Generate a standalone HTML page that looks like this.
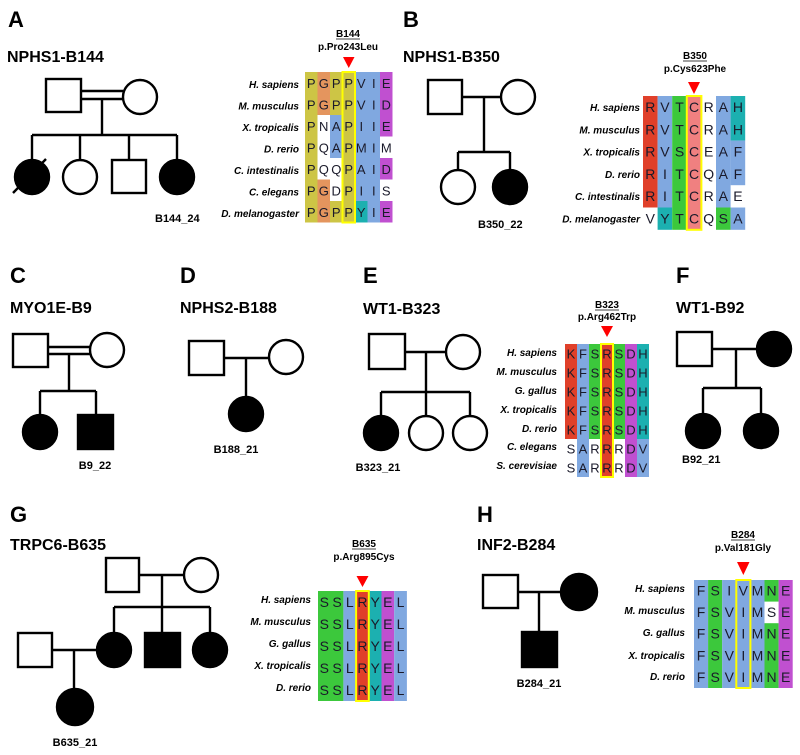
<!DOCTYPE html>
<html><head><meta charset="utf-8"><style>
html,body{margin:0;padding:0;background:#fff;}
svg{display:block;}
.pl{font:bold 22px "Liberation Sans",sans-serif;fill:#000}
.ti{font:bold 16px "Liberation Sans",sans-serif;fill:#000}
.id{font:bold 11px "Liberation Sans",sans-serif;fill:#000}
.hd{font:bold 10px "Liberation Sans",sans-serif;fill:#000}
.sp{font:italic bold 10px "Liberation Sans",sans-serif;fill:#000;text-anchor:end}
.aa{font:14px "Liberation Sans",sans-serif;fill:#1a1a2a;text-anchor:middle}
.ped{stroke:#000;stroke-width:2.4;fill:none}
.f{fill:#000}
.o{fill:#fff}
</style></head><body>
<svg width="800" height="755" viewBox="0 0 800 755" xmlns="http://www.w3.org/2000/svg">
<!-- ===== A ===== -->
<text class="pl" x="8" y="27">A</text>
<text class="ti" x="7" y="62">NPHS1-B144</text>
<g class="ped">
<rect x="46" y="79" width="35" height="33" class="o"/>
<circle cx="140" cy="97" r="17" class="o"/>
<line x1="81" y1="91" x2="123" y2="91"/><line x1="81" y1="99" x2="123" y2="99"/>
<line x1="102" y1="99" x2="102" y2="135"/>
<line x1="32" y1="135" x2="177" y2="135"/>
<line x1="32" y1="135" x2="32" y2="160"/><line x1="80" y1="135" x2="80" y2="160"/>
<line x1="129" y1="135" x2="129" y2="160"/><line x1="177" y1="135" x2="177" y2="160"/>
<circle cx="32" cy="177" r="17" class="f"/>
<circle cx="80" cy="177" r="17" class="o"/>
<rect x="112" y="160" width="34" height="33" class="o"/>
<circle cx="177" cy="177" r="17" class="f"/>
<line x1="13" y1="193" x2="46" y2="159"/>
</g>
<text class="id" x="155" y="222">B144_24</text>

<g>
<rect x="305" y="72" width="12.5" height="150.5" fill="#cdc545"/>
<rect x="317.5" y="72" width="12.5" height="43" fill="#e4955e"/>
<rect x="317.5" y="179.5" width="12.5" height="43" fill="#e4955e"/>
<rect x="330" y="72" width="12.5" height="43" fill="#cdc545"/>
<rect x="330" y="115" width="12.5" height="43" fill="#80a8e0"/>
<rect x="330" y="201" width="12.5" height="21.5" fill="#cdc545"/>
<rect x="342.5" y="72" width="12.5" height="150.5" fill="#cdc545"/>
<rect x="355" y="72" width="12.5" height="129" fill="#80a8e0"/>
<rect x="355" y="201" width="12.5" height="21.5" fill="#1cb0b0"/>
<rect x="367.5" y="72" width="12.5" height="150.5" fill="#80a8e0"/>
<rect x="380" y="72" width="12.5" height="64.5" fill="#c050d0"/>
<rect x="380" y="158" width="12.5" height="21.5" fill="#c050d0"/>
<rect x="380" y="201" width="12.5" height="21.5" fill="#c050d0"/>
<rect x="342.5" y="72" width="12.5" height="150.5" fill="none" stroke="#ffff00" stroke-width="2"/>
</g>
<text class="sp" x="299" y="88">H. sapiens</text>
<text class="sp" x="299" y="109.5">M. musculus</text>
<text class="sp" x="299" y="131">X. tropicalis</text>
<text class="sp" x="299" y="152.5">D. rerio</text>
<text class="sp" x="299" y="174">C. intestinalis</text>
<text class="sp" x="299" y="195.5">C. elegans</text>
<text class="sp" x="299" y="217">D. melanogaster</text>
<g class="aa" style="font-size:13px">
<text x="311.25 323.75 336.25 348.75 361.25 373.75 386.25" y="88">PGPPVIE</text>
<text x="311.25 323.75 336.25 348.75 361.25 373.75 386.25" y="109.5">PGPPVID</text>
<text x="311.25 323.75 336.25 348.75 361.25 373.75 386.25" y="131">PNAPIIE</text>
<text x="311.25 323.75 336.25 348.75 361.25 373.75 386.25" y="152.5">PQAPMIM</text>
<text x="311.25 323.75 336.25 348.75 361.25 373.75 386.25" y="174">PQQPAID</text>
<text x="311.25 323.75 336.25 348.75 361.25 373.75 386.25" y="195.5">PGDPIIS</text>
<text x="311.25 323.75 336.25 348.75 361.25 373.75 386.25" y="217">PGPPYIE</text>
</g>
<text class="hd" x="348" y="37" text-anchor="middle">B144</text>
<line x1="336" y1="39" x2="360" y2="39" stroke="#000" stroke-width="0.8"/>
<text class="hd" x="348" y="50" text-anchor="middle">p.Pro243Leu</text>
<polygon points="343,57 354.5,57 348.75,68" fill="#ff0000"/>

<!-- ===== B ===== -->
<text class="pl" x="403" y="27">B</text>
<text class="ti" x="403" y="62">NPHS1-B350</text>
<g class="ped">
<rect x="428" y="80" width="34" height="34" class="o"/>
<circle cx="518" cy="97" r="17" class="o"/>
<line x1="462" y1="97" x2="501" y2="97"/>
<line x1="484" y1="97" x2="484" y2="152"/>
<line x1="458" y1="152" x2="510" y2="152"/>
<line x1="458" y1="152" x2="458" y2="170"/><line x1="510" y1="152" x2="510" y2="170"/>
<circle cx="458" cy="187" r="17" class="o"/>
<circle cx="510" cy="187" r="17" class="f"/>
</g>
<text class="id" x="478" y="228">B350_22</text>

<g>
<rect x="643" y="96" width="14.6" height="111.5" fill="#e0402a"/>
<rect x="657.6" y="96" width="14.6" height="111.5" fill="#80a8e0"/>
<rect x="657.6" y="207.5" width="14.6" height="22.3" fill="#1cb0b0"/>
<rect x="672.2" y="96" width="14.6" height="133.8" fill="#3cc83c"/>
<rect x="686.8" y="96" width="14.6" height="133.8" fill="#f08080"/>
<rect x="716" y="96" width="14.6" height="111.5" fill="#80a8e0"/>
<rect x="716" y="207.5" width="14.6" height="22.3" fill="#3cc83c"/>
<rect x="730.6" y="96" width="14.6" height="44.6" fill="#1cb0b0"/>
<rect x="730.6" y="140.6" width="14.6" height="44.6" fill="#80a8e0"/>
<rect x="730.6" y="207.5" width="14.6" height="22.3" fill="#80a8e0"/>
<rect x="686.8" y="96" width="14.6" height="133.8" fill="none" stroke="#ffff00" stroke-width="2"/>
</g>
<text class="sp" x="640" y="111">H. sapiens</text>
<text class="sp" x="640" y="133.3">M. musculus</text>
<text class="sp" x="640" y="155.6">X. tropicalis</text>
<text class="sp" x="640" y="177.9">D. rerio</text>
<text class="sp" x="640" y="200.2">C. intestinalis</text>
<text class="sp" x="640" y="222.5">D. melanogaster</text>
<g class="aa">
<text x="650.3 664.9 679.5 694.1 708.7 723.3 737.9" y="112">RVTCRAH</text>
<text x="650.3 664.9 679.5 694.1 708.7 723.3 737.9" y="134.3">RVTCRAH</text>
<text x="650.3 664.9 679.5 694.1 708.7 723.3 737.9" y="156.6">RVSCEAF</text>
<text x="650.3 664.9 679.5 694.1 708.7 723.3 737.9" y="178.9">RITCQAF</text>
<text x="650.3 664.9 679.5 694.1 708.7 723.3 737.9" y="201.2">RITCRAE</text>
<text x="650.3 664.9 679.5 694.1 708.7 723.3 737.9" y="223.5">VYTCQSA</text>
</g>
<text class="hd" x="695" y="59" text-anchor="middle">B350</text>
<line x1="683" y1="61" x2="707" y2="61" stroke="#000" stroke-width="0.8"/>
<text class="hd" x="695" y="72" text-anchor="middle">p.Cys623Phe</text>
<polygon points="688,82 700,82 694,94" fill="#ff0000"/>

<!-- ===== C ===== -->
<text class="pl" x="10" y="283">C</text>
<text class="ti" x="10" y="313">MYO1E-B9</text>
<g class="ped">
<rect x="13" y="334" width="35" height="33" class="o"/>
<circle cx="107" cy="350" r="17" class="o"/>
<line x1="48" y1="347" x2="90" y2="347"/><line x1="48" y1="354" x2="90" y2="354"/>
<line x1="69" y1="354" x2="69" y2="391"/>
<line x1="40" y1="391" x2="96" y2="391"/>
<line x1="40" y1="391" x2="40" y2="415"/><line x1="96" y1="391" x2="96" y2="415"/>
<circle cx="40" cy="432" r="17" class="f"/>
<rect x="78" y="415" width="35" height="34" class="f"/>
</g>
<text class="id" x="95" y="469" text-anchor="middle">B9_22</text>

<!-- ===== D ===== -->
<text class="pl" x="180" y="283">D</text>
<text class="ti" x="180" y="313">NPHS2-B188</text>
<g class="ped">
<rect x="189" y="341" width="35" height="34" class="o"/>
<circle cx="286" cy="357" r="17" class="o"/>
<line x1="224" y1="358" x2="269" y2="358"/>
<line x1="246" y1="358" x2="246" y2="397"/>
<circle cx="246" cy="414" r="17" class="f"/>
</g>
<text class="id" x="236" y="453" text-anchor="middle">B188_21</text>

<!-- ===== E ===== -->
<text class="pl" x="363" y="283">E</text>
<text class="ti" x="363" y="314">WT1-B323</text>
<g class="ped">
<rect x="369" y="334" width="36" height="35" class="o"/>
<circle cx="463" cy="352" r="17" class="o"/>
<line x1="405" y1="352" x2="446" y2="352"/>
<line x1="426" y1="352" x2="426" y2="392"/>
<line x1="381" y1="392" x2="470" y2="392"/>
<line x1="381" y1="392" x2="381" y2="416"/><line x1="426" y1="392" x2="426" y2="416"/><line x1="470" y1="392" x2="470" y2="416"/>
<circle cx="381" cy="433" r="17" class="f"/>
<circle cx="426" cy="433" r="17" class="o"/>
<circle cx="470" cy="433" r="17" class="o"/>
</g>
<text class="id" x="378" y="471" text-anchor="middle">B323_21</text>

<g>
<rect x="565" y="344" width="12" height="95" fill="#e0402a"/>
<rect x="577" y="344" width="12" height="133" fill="#80a8e0"/>
<rect x="589" y="344" width="12" height="95" fill="#3cc83c"/>
<rect x="601" y="344" width="12" height="133" fill="#e0402a"/>
<rect x="613" y="344" width="12" height="95" fill="#3cc83c"/>
<rect x="625" y="344" width="12" height="133" fill="#c050d0"/>
<rect x="637" y="344" width="12" height="95" fill="#1cb0b0"/>
<rect x="637" y="439" width="12" height="38" fill="#80a8e0"/>
<rect x="601" y="344" width="12" height="133" fill="none" stroke="#ffff00" stroke-width="2"/>
</g>
<text class="sp" x="557" y="356">H. sapiens</text>
<text class="sp" x="557" y="375">M. musculus</text>
<text class="sp" x="557" y="394">G. gallus</text>
<text class="sp" x="557" y="413">X. tropicalis</text>
<text class="sp" x="557" y="432">D. rerio</text>
<text class="sp" x="557" y="450">C. elegans</text>
<text class="sp" x="557" y="469">S. cerevisiae</text>
<g class="aa" style="font-size:13px">
<text x="571 583 595 607 619 631 643" y="358.5">KFSRSDH</text>
<text x="571 583 595 607 619 631 643" y="377.5">KFSRSDH</text>
<text x="571 583 595 607 619 631 643" y="396.5">KFSRSDH</text>
<text x="571 583 595 607 619 631 643" y="415.5">KFSRSDH</text>
<text x="571 583 595 607 619 631 643" y="434.5">KFSRSDH</text>
<text x="571 583 595 607 619 631 643" y="453.5">SARRRDV</text>
<text x="571 583 595 607 619 631 643" y="472.5">SARRRDV</text>
</g>
<text class="hd" x="607" y="308" text-anchor="middle">B323</text>
<line x1="595" y1="310" x2="619" y2="310" stroke="#000" stroke-width="0.8"/>
<text class="hd" x="607" y="320" text-anchor="middle">p.Arg462Trp</text>
<polygon points="601,326 613,326 607,337" fill="#ff0000"/>

<!-- ===== F ===== -->
<text class="pl" x="676" y="283">F</text>
<text class="ti" x="676" y="313">WT1-B92</text>
<g class="ped">
<rect x="677" y="332" width="35" height="34" class="o"/>
<circle cx="774" cy="349" r="17" class="f"/>
<line x1="712" y1="349" x2="757" y2="349"/>
<line x1="736" y1="349" x2="736" y2="388"/>
<line x1="703" y1="388" x2="761" y2="388"/>
<line x1="703" y1="388" x2="703" y2="414"/><line x1="761" y1="388" x2="761" y2="414"/>
<circle cx="703" cy="431" r="17" class="f"/>
<circle cx="761" cy="431" r="17" class="f"/>
</g>
<text class="id" x="682" y="463">B92_21</text>

<!-- ===== G ===== -->
<text class="pl" x="10" y="522">G</text>
<text class="ti" x="10" y="550">TRPC6-B635</text>
<g class="ped">
<rect x="106" y="558" width="33" height="34" class="o"/>
<circle cx="201" cy="575" r="17" class="o"/>
<line x1="139" y1="575" x2="184" y2="575"/>
<line x1="162" y1="575" x2="162" y2="607"/>
<line x1="114" y1="607" x2="210" y2="607"/>
<line x1="114" y1="607" x2="114" y2="633"/><line x1="162" y1="607" x2="162" y2="633"/><line x1="210" y1="607" x2="210" y2="633"/>
<circle cx="114" cy="650" r="17" class="f"/>
<rect x="145" y="633" width="35" height="34" class="f"/>
<circle cx="210" cy="650" r="17" class="f"/>
<rect x="18" y="633" width="34" height="34" class="o"/>
<line x1="52" y1="650" x2="97" y2="650"/>
<line x1="74" y1="650" x2="74" y2="689"/>
<circle cx="75" cy="707" r="18" class="f"/>
</g>
<text class="id" x="75" y="746" text-anchor="middle">B635_21</text>

<g>
<rect x="318" y="591" width="25.4" height="110" fill="#3cc83c"/>
<rect x="343.4" y="591" width="12.7" height="110" fill="#80a8e0"/>
<rect x="356.1" y="591" width="12.7" height="110" fill="#e0402a"/>
<rect x="368.8" y="591" width="12.7" height="110" fill="#1cb0b0"/>
<rect x="381.5" y="591" width="12.7" height="110" fill="#c050d0"/>
<rect x="394.2" y="591" width="12.7" height="110" fill="#80a8e0"/>
<rect x="356.1" y="591" width="12.7" height="110" fill="none" stroke="#ffff00" stroke-width="2"/>
</g>
<text class="sp" x="311" y="603">H. sapiens</text>
<text class="sp" x="311" y="625">M. musculus</text>
<text class="sp" x="311" y="647">G. gallus</text>
<text class="sp" x="311" y="669">X. tropicalis</text>
<text class="sp" x="311" y="691">D. rerio</text>
<g class="aa">
<text x="324.35 337.05 349.75 362.45 375.15 387.85 400.55" y="607">SSLRYEL</text>
<text x="324.35 337.05 349.75 362.45 375.15 387.85 400.55" y="629">SSLRYEL</text>
<text x="324.35 337.05 349.75 362.45 375.15 387.85 400.55" y="651">SSLRYEL</text>
<text x="324.35 337.05 349.75 362.45 375.15 387.85 400.55" y="673">SSLRYEL</text>
<text x="324.35 337.05 349.75 362.45 375.15 387.85 400.55" y="695">SSLRYEL</text>
</g>
<text class="hd" x="364" y="547" text-anchor="middle">B635</text>
<line x1="352" y1="549" x2="376" y2="549" stroke="#000" stroke-width="0.8"/>
<text class="hd" x="364" y="560" text-anchor="middle">p.Arg895Cys</text>
<polygon points="356.5,576 368.5,576 362.5,587" fill="#ff0000"/>

<!-- ===== H ===== -->
<text class="pl" x="477" y="522">H</text>
<text class="ti" x="477" y="550">INF2-B284</text>
<g class="ped">
<rect x="483" y="575" width="35" height="33" class="o"/>
<circle cx="579" cy="592" r="18" class="f"/>
<line x1="518" y1="592" x2="561" y2="592"/>
<line x1="539" y1="592" x2="539" y2="632"/>
<rect x="522" y="632" width="35" height="35" class="f"/>
</g>
<text class="id" x="539" y="687" text-anchor="middle">B284_21</text>

<g>
<rect x="694" y="580" width="14.1" height="108" fill="#80a8e0"/>
<rect x="708.1" y="580" width="14.1" height="108" fill="#3cc83c"/>
<rect x="722.2" y="580" width="42.3" height="108" fill="#80a8e0"/>
<rect x="764.5" y="580" width="14.1" height="108" fill="#3cc83c"/>
<rect x="764.5" y="601.6" width="14.1" height="21.6" fill="#fff"/>
<rect x="778.6" y="580" width="14.1" height="108" fill="#c050d0"/>
<rect x="736.3" y="580" width="14.1" height="108" fill="none" stroke="#ffff00" stroke-width="2"/>
</g>
<text class="sp" x="685" y="592">H. sapiens</text>
<text class="sp" x="685" y="614">M. musculus</text>
<text class="sp" x="685" y="636">G. gallus</text>
<text class="sp" x="685" y="659">X. tropicalis</text>
<text class="sp" x="685" y="680">D. rerio</text>
<g class="aa">
<text x="701.05 715.15 729.25 743.35 757.45 771.55 785.65" y="595.5">FSIVMNE</text>
<text x="701.05 715.15 729.25 743.35 757.45 771.55 785.65" y="617.1">FSVIMSE</text>
<text x="701.05 715.15 729.25 743.35 757.45 771.55 785.65" y="638.7">FSVIMNE</text>
<text x="701.05 715.15 729.25 743.35 757.45 771.55 785.65" y="660.3">FSVIMNE</text>
<text x="701.05 715.15 729.25 743.35 757.45 771.55 785.65" y="681.9">FSVIMNE</text>
</g>
<text class="hd" x="743" y="538" text-anchor="middle">B284</text>
<line x1="731" y1="540" x2="755" y2="540" stroke="#000" stroke-width="0.8"/>
<text class="hd" x="743" y="551" text-anchor="middle">p.Val181Gly</text>
<polygon points="737,562 749.5,562 743.35,575" fill="#ff0000"/>
</svg>
</body></html>
